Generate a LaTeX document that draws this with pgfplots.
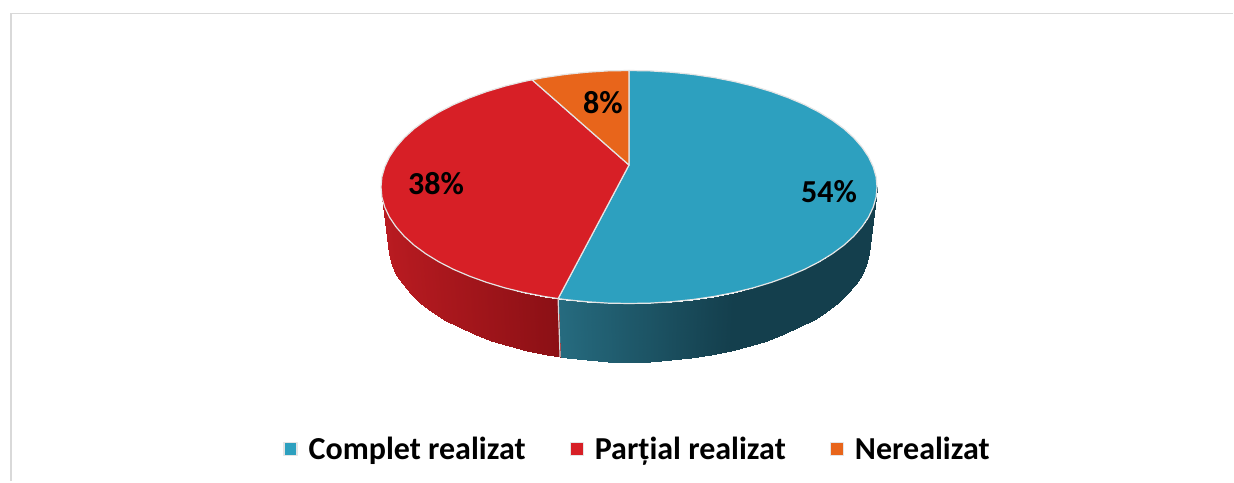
\documentclass[border=0pt]{standalone}
\usepackage{fontspec}
\setmainfont{Carlito}
\usepackage{pgfplots}
\pgfplotsset{compat=1.18}
\definecolor{pieblue}{RGB}{45,160,191}
\definecolor{piered}{RGB}{215,31,38}
\definecolor{pieorange}{RGB}{232,101,27}
\definecolor{frameline}{RGB}{217,217,217}

\begin{document}
\begin{tikzpicture}
\begin{axis}[
    width=1234pt, height=482pt, scale only axis,
    xmin=0, xmax=1234, ymin=0, ymax=482, y dir=reverse,
    hide axis, clip=false,
    colormap={pieside}{rgb255(0)=(185,27,33) rgb255(100)=(139,16,21)
        rgb255(110)=(38,107,127) rgb255(170)=(20,63,77) rgb255(210)=(20,63,77)},
    point meta min=0, point meta max=210,
    legend columns=3,
    legend cell align=left,
    legend image code/.code={\fill[#1] (0pt,-6.5pt) rectangle (13pt,6.5pt);},
    legend style={at={(0.2297,0.0685)}, anchor=west, draw=none, fill=none,
        inner sep=0pt, outer sep=0pt, nodes={inner sep=0pt},
        font=\fontsize{32}{34}\selectfont\bfseries,
        /tikz/every odd column/.append style={column sep=11pt},
        /tikz/every even column/.append style={column sep=44pt}},
]
% page area and frame
\addplot[fill=white, draw=none, forget plot] coordinates {(0,0)(1234,0)(1234,482)(0,482)} --cycle;
\addplot[frameline, line width=1.5pt, forget plot] coordinates {(11,481)(11,13.5)(1233,13.5)};

% side wall, blue part
\addplot[surf, shader=interp, mesh/rows=2, point meta=explicit, forget plot]
table[x=x, y=y, meta=c] {
x y c
877 187 170
876.1 197.2 170
873.2 207.2 170
868.5 217.2 170
862 226.8 170
853.8 236.2 170
843.8 245.3 170
832.2 253.8 170
819 261.9 170
804.4 269.4 170
788.4 276.2 170
771.3 282.4 170
753 287.9 170
733.8 292.6 170
713.8 296.5 164
693.2 299.5 157
672.1 301.7 150
650.6 303.1 142
629 303.5 135
607.4 303.1 127
585.9 301.7 120
564.8 299.5 112
558.1 298.6 110
870 244 170
869.1 254.3 170
866.3 264.5 170
861.8 274.5 170
855.5 284.4 170
847.4 293.9 170
837.7 303 170
826.4 311.7 170
813.6 319.8 170
799.4 327.4 170
783.9 334.4 170
767.2 340.7 170
749.5 346.2 170
730.8 350.9 170
711.4 354.9 164
691.4 358 157
670.8 360.2 150
650 361.6 142
629 362 135
608 361.6 127
587.2 360.2 120
566.6 358 112
560.1 357.1 110
};

% side wall, red part
\addplot[surf, shader=interp, mesh/rows=2, point meta=explicit, forget plot]
table[x=x, y=y, meta=c] {
x y c
381 187 0
381.9 197.2 0.5
384.8 207.2 2
389.5 217.2 5
396 226.8 8
404.2 236.2 13
414.2 245.3 19
425.8 253.8 25
439 261.9 33
453.6 269.4 41
469.6 276.2 50
486.7 282.4 60
505 287.9 70
524.2 292.6 81
544.2 296.5 92
558.1 298.6 100
388 244 0
388.9 254.3 0.5
391.7 264.5 2
396.2 274.5 5
402.5 284.4 8
410.6 293.9 13
420.3 303 19
431.6 311.7 25
444.4 319.8 33
458.6 327.4 41
474.1 334.4 50
490.8 340.7 60
508.5 346.2 70
527.2 350.9 81
546.6 354.9 92
560.1 357.1 100
};
\addplot[white!85!black, line width=1.2pt, forget plot] coordinates {(558.1,298.6)(560.1,357.1)};

% top face
\addplot[fill=pieblue, draw=white!90!black, line width=1.2pt, line join=round] coordinates {
(629,165)(629,70.5)(650.6,70.9)(672.1,72.3)(693.2,74.5)(713.8,77.5)(733.8,81.4)
(753,86.1)(771.3,91.6)(788.4,97.8)(804.4,104.6)(819,112.1)(832.2,120.2)
(843.8,128.7)(853.8,137.8)(862,147.2)(868.5,156.8)(873.2,166.8)(876.1,176.8)
(877,187)(876.1,197.2)(873.2,207.2)(868.5,217.2)(862,226.8)(853.8,236.2)
(843.8,245.3)(832.2,253.8)(819,261.9)(804.4,269.4)(788.4,276.2)(771.3,282.4)
(753,287.9)(733.8,292.6)(713.8,296.5)(693.2,299.5)(672.1,301.7)(650.6,303.1)
(629,303.5)(607.4,303.1)(585.9,301.7)(564.8,299.5)(558.1,298.6)} --cycle;
\addlegendentry{Complet realizat}

\addplot[fill=piered, draw=white!90!black, line width=1.2pt, line join=round] coordinates {
(629,165)(558.1,298.6)(544.2,296.5)(524.2,292.6)(505,287.9)(486.7,282.4)
(469.6,276.2)(453.6,269.4)(439,261.9)(425.8,253.8)(414.2,245.3)(404.2,236.2)
(396,226.8)(389.5,217.2)(384.8,207.2)(381.9,197.2)(381,187)(381.9,176.8)
(384.8,166.8)(389.5,156.8)(396,147.2)(404.2,137.8)(414.2,128.7)(425.8,120.2)
(439,112.1)(453.6,104.6)(469.6,97.8)(486.7,91.6)(505,86.1)(524.2,81.4)(532.1,79.8)} --cycle;
\addlegendentry{Parțial realizat}

\addplot[fill=pieorange, draw=white!90!black, line width=1.2pt, line join=round] coordinates {
(629,165)(532.1,79.8)(544.2,77.5)(564.8,74.5)(585.9,72.3)(607.4,70.9)(629,70.5)} --cycle;
\addlegendentry{Nerealizat}

% data labels
\node[font=\fontsize{32}{34}\selectfont\bfseries] at (axis cs:829,192) {54\%};
\node[font=\fontsize{32}{34}\selectfont\bfseries] at (axis cs:436,184) {38\%};
\node[font=\fontsize{32}{34}\selectfont\bfseries] at (axis cs:603,103) {8\%};
\end{axis}
\end{tikzpicture}
\end{document}
